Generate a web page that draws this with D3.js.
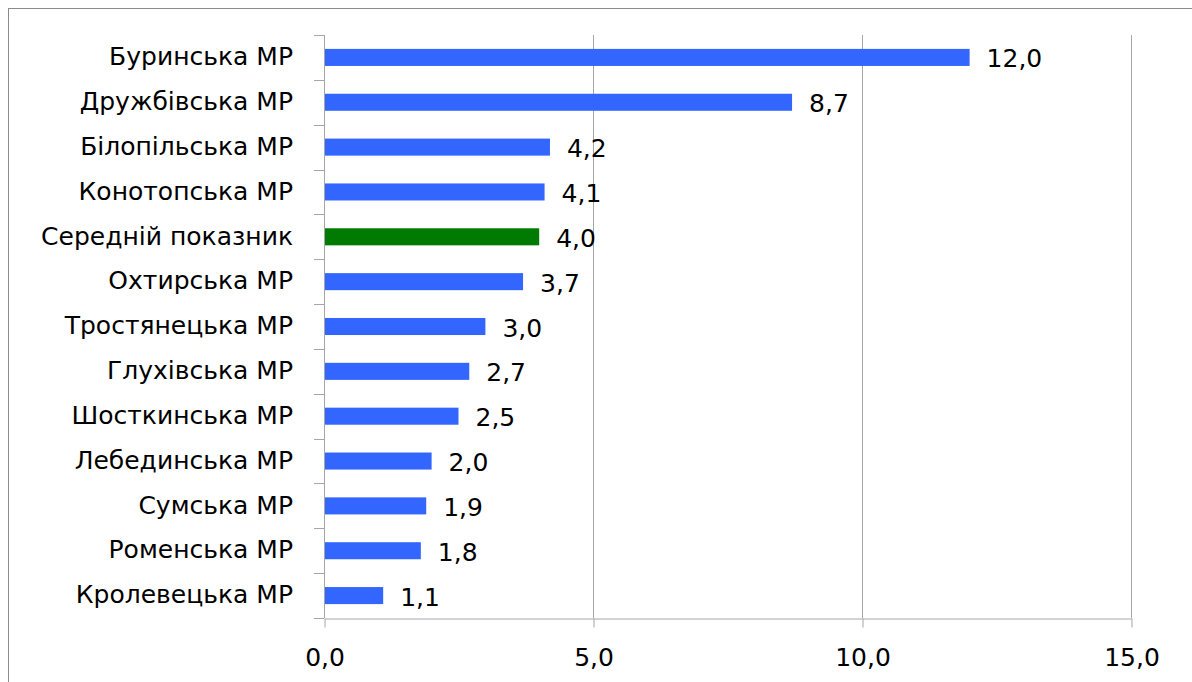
<!DOCTYPE html>
<html>
<head>
<meta charset="utf-8">
<script src="https://cdn.jsdelivr.net/npm/d3@7"></script>
<style>
  body { margin: 0; background: #fff; }
  svg { display: block; }
</style>
</head>
<body>
<svg id="chart"></svg>
<script>
// data
const categories = ["Буринська МР", "Дружбівська МР", "Білопільська МР", "Конотопська МР",
  "Середній показник", "Охтирська МР", "Тростянецька МР", "Глухівська МР",
  "Шосткинська МР", "Лебединська МР", "Сумська МР", "Роменська МР", "Кролевецька МР"];
const values = [12.0, 8.7, 4.2, 4.1, 4.0, 3.7, 3.0, 2.7, 2.5, 2.0, 1.9, 1.8, 1.1];
const xTicks = [0, 5, 10, 15];
const highlight = "Середній показник";

const w = 1192;
const h = 682;
const margin = { top: 35, right: 61, bottom: 64, left: 324 };
const fmt = v => d3.format(".1f")(v).replace(".", ",");

const svg = d3.select("#chart")
  .attr("width", w)
  .attr("height", h)
  .style("font-family", "'DejaVu Sans', sans-serif");

// outer frame
svg.append("rect")
  .attr("x", 8.5).attr("y", 8.5)
  .attr("width", w).attr("height", h)
  .attr("fill", "none")
  .attr("stroke", "#8c8c8c");

const x = d3.scaleLinear().domain([0, 15]).range([margin.left, w - margin.right]);
const y = d3.scaleBand().domain(categories)
  .range([margin.top, h - margin.bottom])
  .paddingInner(0.62).paddingOuter(0.31);

// gridlines
svg.append("g")
  .selectAll("line")
  .data(xTicks.slice(1))
  .join("line")
    .attr("x1", d => Math.round(x(d)) + 0.5)
    .attr("x2", d => Math.round(x(d)) + 0.5)
    .attr("y1", margin.top)
    .attr("y2", h - margin.bottom)
    .attr("stroke", "#a6a6a6");

// x axis
const xAxis = svg.append("g")
  .attr("transform", `translate(0.5,${h - margin.bottom + 0.5})`)
  .call(d3.axisBottom(x).tickValues(xTicks).tickFormat(fmt).tickSize(9).tickSizeOuter(0));
xAxis.select(".domain").attr("stroke", "#a6a6a6");
xAxis.selectAll(".tick line").attr("stroke", "#a6a6a6");
xAxis.attr("font-family", null).attr("font-size", null);
xAxis.selectAll("text")
  .attr("dy", 0).attr("y", 47)
  .style("font-size", "25px")
  .attr("fill", "#000");

// y axis with ticks between categories
const yBounds = d3.range(categories.length + 1).map(i => margin.top + i * (h - margin.top - margin.bottom) / categories.length);
const yAxis = svg.append("g");
yAxis.append("line")
  .attr("x1", margin.left + 0.5).attr("x2", margin.left + 0.5)
  .attr("y1", margin.top).attr("y2", h - margin.bottom)
  .attr("stroke", "#a6a6a6");
yAxis.selectAll("line.tk")
  .data(yBounds)
  .join("line")
    .attr("class", "tk")
    .attr("x1", margin.left - 10).attr("x2", margin.left)
    .attr("y1", d => Math.round(d) + 0.5).attr("y2", d => Math.round(d) + 0.5)
    .attr("stroke", "#a6a6a6");
yAxis.selectAll("text")
  .data(categories)
  .join("text")
    .attr("x", margin.left - 31)
    .attr("y", d => y(d) + y.bandwidth() / 2)
    .attr("dy", "0.31em")
    .attr("text-anchor", "end")
    .style("font-size", "25px")
    .text(d => d);

// bars
svg.append("g")
  .selectAll("rect")
  .data(categories)
  .join("rect")
    .attr("x", x(0) + 1)
    .attr("y", d => y(d))
    .attr("width", (d, i) => x(values[i]) - x(0) - 1)
    .attr("height", y.bandwidth())
    .attr("fill", d => d === highlight ? "#007a00" : "#3366ff");

// value labels
svg.append("g")
  .selectAll("text")
  .data(categories)
  .join("text")
    .attr("x", (d, i) => x(values[i]) + 17)
    .attr("y", d => y(d) + y.bandwidth() / 2)
    .attr("dy", "0.4em")
    .style("font-size", "25px")
    .text((d, i) => fmt(values[i]));
</script>
</body>
</html>
